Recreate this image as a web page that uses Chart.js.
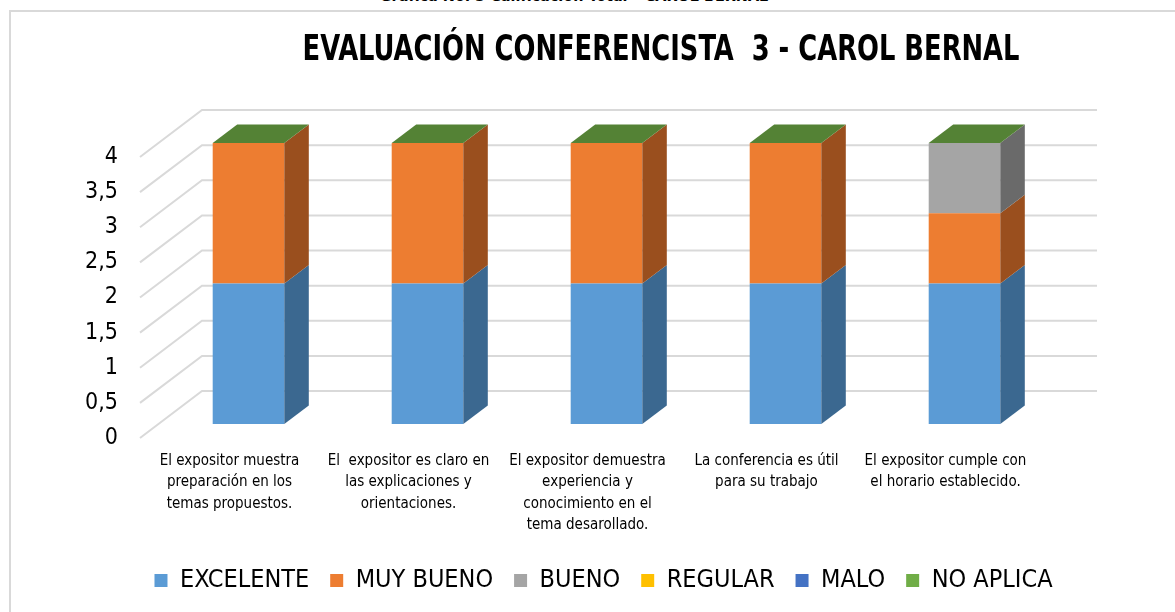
<!DOCTYPE html>
<html lang="es">

<head>
    <meta charset="UTF-8">
    <title>Evaluación Conferencista 3</title>
    <style>
        html, body { margin: 0; padding: 0; background: #fff; overflow: hidden; }
        .caption {
            position: absolute; left: 0; top: -14px; width: 1148px; text-align: center;
            font: bold 16px 'DejaVu Sans Condensed', sans-serif; color: #000;
        }
        .frame {
            position: absolute; left: 9px; top: 10px; width: 1200px; height: 700px;
            border-left: 2px solid #d9d9d9; border-top: 2px solid #d9d9d9;
        }
        .chart-container { position: absolute; left: 0; top: 0; width: 1175px; height: 612px; }
    </style>
</head>

<body>
    <div class="caption">Grafica No. 3 Calificación Total – CAROL BERNAL</div>
    <div class="frame"></div>
    <div class="chart-container">
        <canvas id="chart"></canvas>
    </div>

<script src="https://cdn.jsdelivr.net/npm/chart.js@4/dist/chart.umd.min.js"></script>
<script>
    const FONT = "'DejaVu Sans Condensed', sans-serif";

    const chartTitle = 'EVALUACIÓN CONFERENCISTA  3 - CAROL BERNAL';
    const labels = [
        ['El expositor muestra', 'preparación en los', 'temas propuestos.'],
        ['El  expositor es claro en', 'las explicaciones y', 'orientaciones.'],
        ['El expositor demuestra', 'experiencia y', 'conocimiento en el', 'tema desarollado.'],
        ['La conferencia es útil', 'para su trabajo'],
        ['El expositor cumple con', 'el horario establecido.']
    ];
    const excelente = [2, 2, 2, 2, 2];
    const muyBueno = [2, 2, 2, 2, 1];
    const bueno = [0, 0, 0, 0, 1];
    const regular = [0, 0, 0, 0, 0];
    const malo = [0, 0, 0, 0, 0];
    const noAplica = [0, 0, 0, 0, 0];
    const yTicks = ['0', '0,5', '1', '1,5', '2', '2,5', '3', '3,5', '4'];

    // front colour / side colour of each series
    const colors = ['#5B9BD5', '#ED7D31', '#A5A5A5', '#FFC000', '#4472C4', '#70AD47'];
    const sideColors = ['#3B6890', '#9A4F1E', '#6A6A6A', '#A67C00', '#2C4A80', '#548235'];

    // fake 3d: bar offset inside the floor, bar depth, wall depth
    const OX = 19, OY = -14, DX = 24.5, DY = -18.5;
    const WX = 62, WY = -47;

    const fake3d = {
        id: 'fake3d',
        afterLayout(chart) {
            // excel puts the legend a bit further right and lower
            chart.legend.left += 66;
            chart.legend.right += 66;
            chart.legend.top += 9;
            chart.legend.bottom += 9;
        },
        beforeDatasetsDraw(chart) {
            const ctx = chart.ctx;
            const area = chart.chartArea;
            const y = chart.scales.y;
            // back wall gridlines + side wall diagonals
            ctx.save();
            ctx.strokeStyle = '#d9d9d9';
            ctx.lineWidth = 2;
            for (let i = 0; i < yTicks.length; i++) {
                const yf = y.getPixelForValue(i * 0.5);
                ctx.beginPath();
                ctx.moveTo(area.left, yf);
                ctx.lineTo(area.left + WX, yf + WY);
                ctx.lineTo(area.right + WX, yf + WY);
                ctx.stroke();
            }
            ctx.restore();
            ctx.save();
            ctx.translate(OX, OY);
        },
        afterDatasetsDraw(chart) {
            const ctx = chart.ctx;
            const n = chart.data.labels.length;
            for (let i = 0; i < n; i++) {
                let top = null;
                chart.data.datasets.forEach((ds, d) => {
                    const bar = chart.getDatasetMeta(d).data[i];
                    if (!bar) return;
                    const r = bar.x + bar.width / 2;
                    if (top === null || bar.y < top.y) top = bar;
                    if (ds.data[i] === 0) return;
                    ctx.fillStyle = sideColors[d];
                    ctx.beginPath();
                    ctx.moveTo(r, bar.y);
                    ctx.lineTo(r + DX, bar.y + DY);
                    ctx.lineTo(r + DX, bar.base + DY);
                    ctx.lineTo(r, bar.base);
                    ctx.closePath();
                    ctx.fill();
                });
                if (top) {
                    const l = top.x - top.width / 2, r = top.x + top.width / 2;
                    ctx.fillStyle = sideColors[5];
                    ctx.beginPath();
                    ctx.moveTo(l, top.y);
                    ctx.lineTo(l + DX, top.y + DY);
                    ctx.lineTo(r + DX, top.y + DY);
                    ctx.lineTo(r, top.y);
                    ctx.closePath();
                    ctx.fill();
                }
            }
            ctx.restore();
        },
        afterDraw(chart) {
            const ctx = chart.ctx;
            ctx.save();
            ctx.font = 'bold 35px ' + FONT;
            ctx.fillStyle = '#000';
            ctx.textAlign = 'center';
            ctx.textBaseline = 'alphabetic';
            ctx.fillText(chartTitle, 661, 60, 717);
            ctx.restore();
        }
    };

    const names = ['EXCELENTE', 'MUY BUENO', 'BUENO', 'REGULAR', 'MALO', 'NO APLICA'];
    const series = [excelente, muyBueno, bueno, regular, malo, noAplica];

    let data = {
        labels: labels,
        datasets: series.map((s, i) => ({
            label: names[i],
            data: s,
            backgroundColor: colors[i],
            borderWidth: 0,
            categoryPercentage: 1,
            barPercentage: 0.4,
            clip: false
        }))
    };

    var config = {
        type: 'bar',
        data: data,
        plugins: [fake3d],
        options: {
            responsive: true,
            maintainAspectRatio: false,
            animation: false,
            layout: { padding: { top: 157, left: 40, right: 140, bottom: 18 } },
            plugins: {
                title: { display: false },
                tooltip: { enabled: false },
                legend: {
                    position: 'bottom',
                    labels: {
                        boxWidth: 13,
                        boxHeight: 13,
                        padding: 21,
                        color: '#000',
                        font: { family: FONT, size: 25 }
                    }
                }
            },
            scales: {
                x: {
                    stacked: true,
                    grid: { display: false, drawTicks: false },
                    border: { display: false },
                    ticks: {
                        padding: 12,
                        maxRotation: 0,
                        autoSkip: false,
                        color: '#000',
                        font: { family: FONT, size: 15, lineHeight: 1.43 }
                    },
                    afterFit(scale) { scale.height = 100; }
                },
                y: {
                    stacked: true,
                    min: 0,
                    max: 4,
                    grid: { display: false, drawTicks: false },
                    border: { display: false },
                    ticks: {
                        stepSize: 0.5,
                        autoSkip: false,
                        padding: 22,
                        color: '#000',
                        font: { family: FONT, size: 23 },
                        callback: (v) => yTicks[Math.round(v * 2)]
                    },
                    afterFit(scale) { scale.width = 100; }
                }
            }
        }
    };
    var chart = new Chart(document.getElementById('chart'), config);
</script>
</body>

</html>
